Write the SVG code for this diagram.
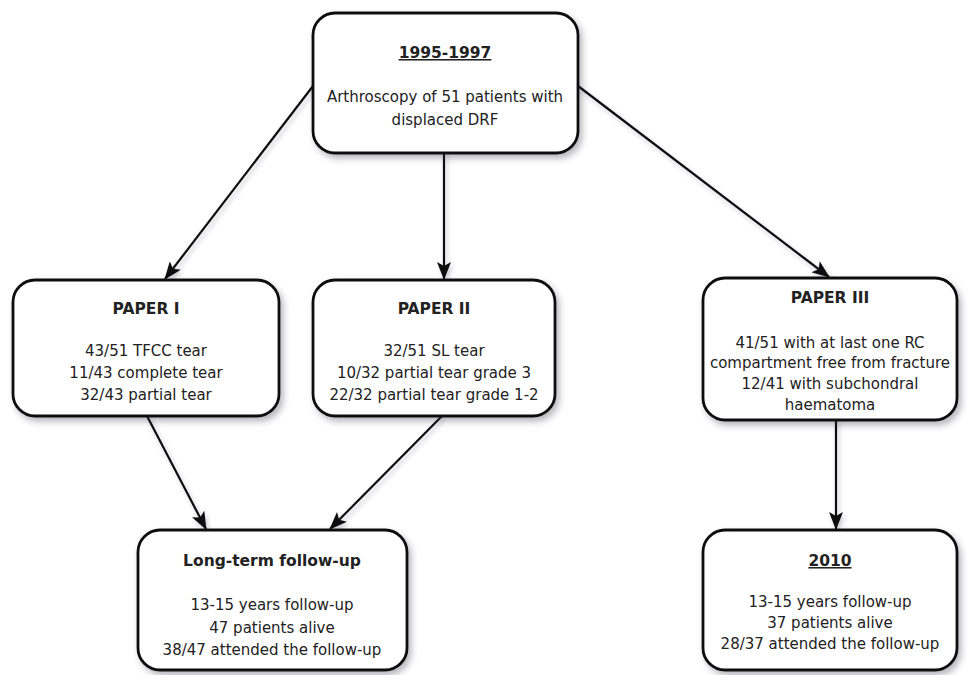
<svg xmlns="http://www.w3.org/2000/svg" width="967" height="675" viewBox="0 0 967 675">
<style>
.box{fill:#fff;stroke:#111;stroke-width:2.8;filter:url(#sh)}
.t{font-family:"DejaVu Sans",Verdana,sans-serif;font-size:15px;fill:#222;text-anchor:middle}
.b{font-weight:bold;font-size:15.5px}
.u{text-decoration:underline}
.c{stroke:#111;stroke-width:2.2;fill:none;marker-end:url(#ah)}
</style>
<defs>
<filter id="sh" x="-10%" y="-10%" width="125%" height="130%">
<feDropShadow dx="3" dy="4" stdDeviation="3" flood-color="#334" flood-opacity="0.35"/>
</filter>
<filter id="ls" filterUnits="userSpaceOnUse" x="0" y="0" width="967" height="675">
<feDropShadow dx="2" dy="3" stdDeviation="2" flood-color="#334" flood-opacity="0.25"/>
</filter>
<marker id="ah" viewBox="0 0 18 14" refX="17" refY="7" markerWidth="18" markerHeight="14" markerUnits="userSpaceOnUse" orient="auto">
<path d="M0,0 L18,7 L0,14 L4,7 Z" fill="#111"/>
</marker>
</defs>
<g id="connectors" filter="url(#ls)">
<line class="c" x1="313" y1="86" x2="165" y2="279"/>
<line class="c" x1="444" y1="153" x2="444" y2="279"/>
<line class="c" x1="578" y1="86" x2="829" y2="277"/>
<line class="c" x1="147" y1="416" x2="206" y2="529"/>
<line class="c" x1="442" y1="416" x2="330" y2="529"/>
<line class="c" x1="836" y1="420" x2="836" y2="529"/>
</g>
<g id="n1995">
<rect class="box" x="313" y="13" width="265" height="140" rx="22"/>
<text class="t b u" x="445" y="58">1995-1997</text>
<text class="t" x="445" y="102">Arthroscopy of 51 patients with</text>
<text class="t" x="445" y="125">displaced DRF</text>
</g>
<g id="paper1">
<rect class="box" x="13" y="280" width="266" height="136" rx="22"/>
<text class="t b" x="146" y="314">PAPER I</text>
<text class="t" x="146" y="356">43/51 TFCC tear</text>
<text class="t" x="146" y="378">11/43 complete tear</text>
<text class="t" x="146" y="400">32/43 partial tear</text>
</g>
<g id="paper2">
<rect class="box" x="313" y="280" width="242" height="136" rx="22"/>
<text class="t b" x="434" y="314">PAPER II</text>
<text class="t" x="434" y="356">32/51 SL tear</text>
<text class="t" x="434" y="378">10/32 partial tear grade 3</text>
<text class="t" x="434" y="400">22/32 partial tear grade 1-2</text>
</g>
<g id="paper3">
<rect class="box" x="703" y="278" width="254" height="142" rx="22"/>
<text class="t b" x="830" y="303">PAPER III</text>
<text class="t" x="830" y="348">41/51 with at last one RC</text>
<text class="t" x="830" y="368">compartment free from fracture</text>
<text class="t" x="830" y="389">12/41 with subchondral</text>
<text class="t" x="830" y="410">haematoma</text>
</g>
<g id="longterm">
<rect class="box" x="138" y="530" width="269" height="140" rx="22"/>
<text class="t b" x="272" y="566">Long-term follow-up</text>
<text class="t" x="272" y="610">13-15 years follow-up</text>
<text class="t" x="272" y="633">47 patients alive</text>
<text class="t" x="272" y="655">38/47 attended the follow-up</text>
</g>
<g id="n2010">
<rect class="box" x="703" y="530" width="254" height="140" rx="22"/>
<text class="t b u" x="830" y="566">2010</text>
<text class="t" x="830" y="607">13-15 years follow-up</text>
<text class="t" x="830" y="628">37 patients alive</text>
<text class="t" x="830" y="649">28/37 attended the follow-up</text>
</g>
</svg>
